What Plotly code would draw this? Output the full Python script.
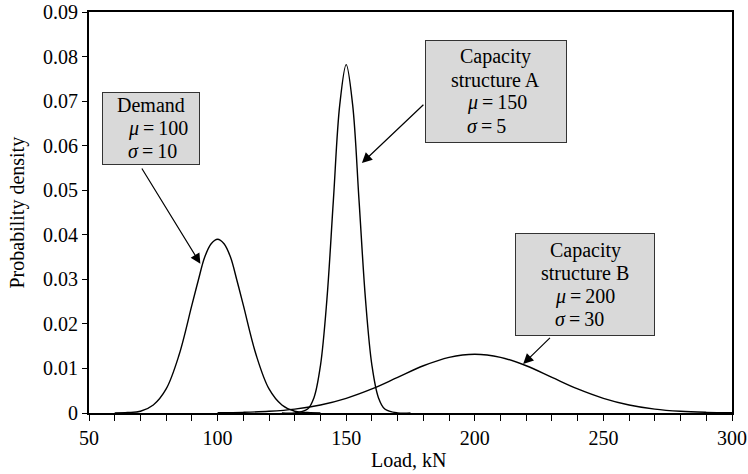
import plotly.graph_objects as go

# Demand: mu=100, sigma=10
demand_x = [60, 65, 70, 75, 80, 85, 90, 92.5, 95, 97.5, 100, 102.5, 105, 107.5, 110, 115, 120, 125, 130, 135, 140]
demand_y = [0.0, 0.0001, 0.0004, 0.0018, 0.0054, 0.0130, 0.0242, 0.0298, 0.0350, 0.0380, 0.0390,
            0.0380, 0.0350, 0.0298, 0.0242, 0.0130, 0.0054, 0.0018, 0.0004, 0.0001, 0.0]

# Capacity structure A: mu=150, sigma=5
capA_x = [125, 130, 135, 137.5, 140, 142.5, 145, 147.5, 150, 152.5, 155, 157.5, 160, 162.5, 165, 170, 175]
capA_y = [0.0, 0.00003, 0.0009, 0.0035, 0.0107, 0.0255, 0.0476, 0.0692, 0.0782,
          0.0692, 0.0476, 0.0255, 0.0107, 0.0035, 0.0009, 0.00003, 0.0]

# Capacity structure B: mu=200, sigma=30
capB_x = [100, 110, 120, 130, 140, 150, 160, 170, 180, 190, 200,
          210, 220, 230, 240, 250, 260, 270, 280, 290, 300]
capB_y = [0.00005, 0.00015, 0.00038, 0.00087, 0.0018, 0.0033, 0.0054, 0.0080, 0.0106, 0.0125, 0.0132,
          0.0125, 0.0106, 0.0080, 0.0054, 0.0033, 0.0018, 0.00087, 0.00038, 0.00015, 0.00005]

x_range = [50, 300]
y_range = [0, 0.09]
x_title = "Load, kN"
y_title = "Probability density"

box_headers = [["Demand"], ["Capacity", "structure A"], ["Capacity", "structure B"]]
box_mu = ["100", "150", "200"]
box_sigma = ["10", "5", "30"]

FONT = "Liberation Serif, Times New Roman, serif"
FS = 20
W, H = 748, 474
L, R, T, B = 89, 16, 12, 61

fig = go.Figure()
for xs, ys in [(demand_x, demand_y), (capA_x, capA_y), (capB_x, capB_y)]:
    fig.add_trace(go.Scatter(x=xs, y=ys, mode="lines",
                             line=dict(color="black", width=1.4, shape="spline", smoothing=1.0),
                             showlegend=False, hoverinfo="skip"))

# text boxes: (center x data, center y data, width px, height px, left offset of mu/sigma lines px)
boxes = [(74.1, 0.0639, 98, 73, 24),
         (208.2, 0.0722, 142, 103, 40),
         (242.9, 0.0288, 140, 103, 38)]
LH = 23
for (cx, cy, bw, bh, lo), hdr, mu, sg in zip(boxes, box_headers, box_mu, box_sigma):
    fig.add_annotation(x=cx, y=cy, xref="x", yref="y", text=" ", showarrow=False,
                       width=bw - 2, height=bh - 2, borderpad=0, borderwidth=1,
                       bgcolor="#d9d9d9", bordercolor="#333333",
                       font=dict(family=FONT, size=FS))
    lines = hdr + [None, None]
    n = len(lines)
    for i, ln in enumerate(lines):
        ys = (n - 1) / 2 * LH - i * LH
        if ln is not None:
            fig.add_annotation(x=cx, y=cy, xref="x", yref="y", text=ln, showarrow=False,
                               yshift=ys, xanchor="center", yanchor="middle",
                               font=dict(family=FONT, size=FS, color="black"))
        else:
            sym = "μ" if i == n - 2 else "σ"
            val = mu if i == n - 2 else sg
            fig.add_annotation(x=cx, y=cy, xref="x", yref="y",
                               text=f"<i>{sym}</i>\u2009=\u2009{val}", showarrow=False,
                               yshift=ys, xshift=-bw / 2 + lo, xanchor="left", yanchor="middle",
                               font=dict(family=FONT, size=FS, color="black"))

arrow_style = dict(text="", showarrow=True, xref="x", yref="y", axref="x", ayref="y",
                   arrowhead=2, arrowsize=1.7, arrowwidth=1.2, arrowcolor="black", standoff=0, startstandoff=0)
fig.add_annotation(x=93.3, y=0.0335, ax=70.2, ay=0.0552, **arrow_style)
fig.add_annotation(x=156.1, y=0.0561, ax=180.6, ay=0.0695, **arrow_style)
fig.add_annotation(x=218.8, y=0.0110, ax=229.8, ay=0.0172, **arrow_style)

# axis titles
fig.add_annotation(x=0.5, y=0, xref="paper", yref="paper", text=x_title, showarrow=False,
                   xanchor="center", yanchor="middle", yshift=-47, xshift=-2,
                   font=dict(family=FONT, size=FS, color="black"))
fig.add_annotation(x=0, y=0.5, xref="paper", yref="paper", text=y_title, showarrow=False,
                   textangle=-90, xanchor="center", yanchor="middle", xshift=-72, yshift=0,
                   font=dict(family=FONT, size=FS, color="black"))

fig.update_xaxes(range=x_range, tickmode="linear", tick0=50, dtick=50, automargin=False,
                 ticks="outside", ticklen=6, tickwidth=1.3, tickcolor="black", ticklabeloverflow="allow",
                 minor=dict(dtick=10, tick0=50, ticks="outside", ticklen=6, tickwidth=1.3, tickcolor="black"),
                 showline=True, mirror=True, linewidth=1.8, linecolor="black", showgrid=False, zeroline=False,
                 tickfont=dict(family=FONT, size=FS, color="black"))
fig.update_yaxes(range=y_range, tickmode="linear", tick0=0, dtick=0.01, automargin=False,
                 ticks="outside", ticklen=5, tickwidth=1.3, tickcolor="black", ticklabeloverflow="allow",
                 showline=True, mirror=True, linewidth=1.8, linecolor="black", showgrid=False, zeroline=False,
                 tickfont=dict(family=FONT, size=FS, color="black"))

fig.update_layout(width=W, height=H, margin=dict(l=L, r=R, t=T, b=B),
                  plot_bgcolor="white", paper_bgcolor="white",
                  font=dict(family=FONT, size=FS, color="black"))

# remove the default 8px page margin so the 748x474 figure fills the window exactly
fig.write_html("out.html", config={"displayModeBar": False},
               post_script="document.body.style.margin='0';document.body.style.overflow='hidden';")
